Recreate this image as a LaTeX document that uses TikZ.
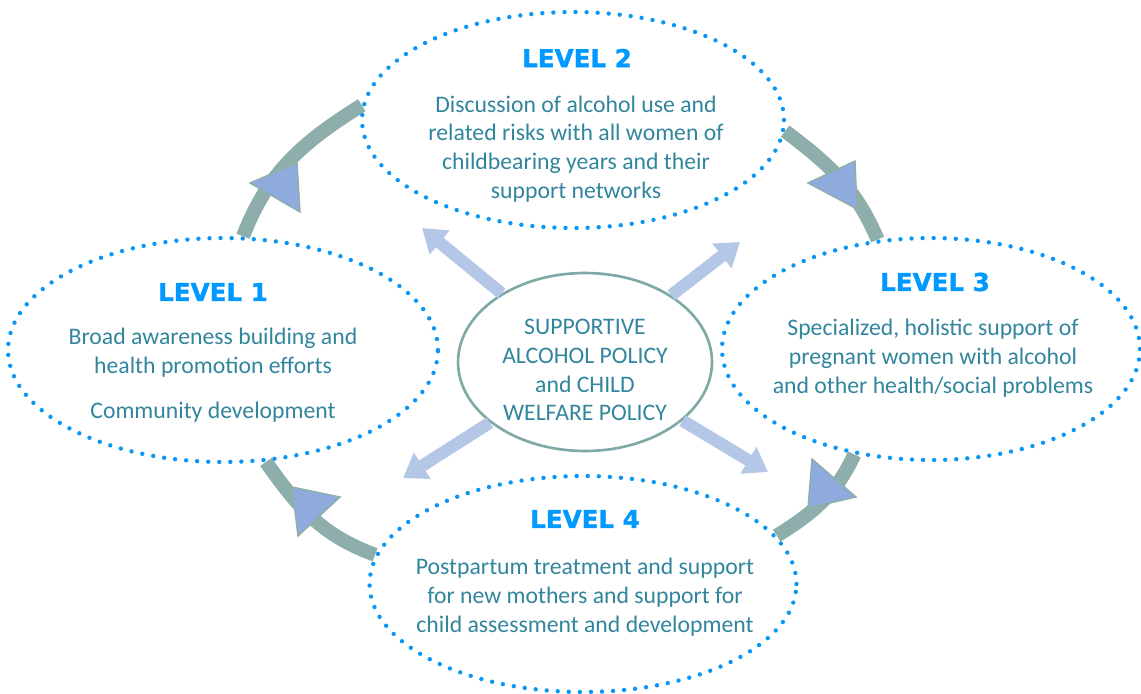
\documentclass[tikz,border=0pt]{standalone}
\usepackage{fontspec}
\setmainfont{Carlito}
\newfontfamily\levelfont{DejaVu Sans}[BoldFeatures={FakeBold=1.2}]
\usetikzlibrary{shapes.geometric,arrows.meta,backgrounds}
\definecolor{dotBlue}{HTML}{0A96F5}
\definecolor{headBlue}{HTML}{0099FF}
\definecolor{textTeal}{HTML}{31859C}
\definecolor{cycleGray}{HTML}{8EAEAB}
\definecolor{triBlue}{HTML}{8FAADC}
\definecolor{spokeBlue}{HTML}{B4C7E7}
\definecolor{policyRim}{HTML}{7FA9A7}

\begin{document}
\begin{tikzpicture}[x=0.02cm, y=-0.02cm,
    level/.style={ellipse, draw=dotBlue, line width=2.5pt, dash pattern=on 0pt off 6.3pt, line cap=round, inner sep=0pt},
    heading/.style={font=\levelfont\bfseries\fontsize{14}{16}\selectfont, text=headBlue},
    body/.style={align=center, text=textTeal, font=\fontsize{13.5}{16.4}\selectfont},
    cyclearc/.style={draw=cycleGray, line width=8pt},
    tri/.style={fill=triBlue, draw=cycleGray, line width=0.8pt},
    spoke/.style={draw=spokeBlue, line width=7pt, -{Triangle[width=17pt,length=13pt]}}]
    \useasboundingbox (0,0) rectangle (1141,693);

    % four levels round the policy
    \node[level, minimum width=8.6cm, minimum height=4.48cm] (l1) at (223,350) {};
    \node[level, minimum width=8.44cm, minimum height=4.32cm] (l2) at (573,120) {};
    \node[level, minimum width=8.36cm, minimum height=4.44cm] (l3) at (931,349) {};
    \node[level, minimum width=8.54cm, minimum height=4.32cm] (l4) at (583,584) {};

    \node[ellipse, draw=policyRim, line width=1.5pt, minimum width=5.08cm, minimum height=3.56cm, inner sep=0pt] (policy) at (585,362) {};
    \node[body] (policytext) at (585,370) {SUPPORTIVE\\ALCOHOL POLICY\\and CHILD\\WELFARE POLICY};

    % cycle, under the dotted rims
    \begin{pgfonlayer}{background}
    \path[cyclearc]
        (l1.80) to[out=69, in=212] (l2.176)
        (l2.-3) to[out=-37, in=113] (l3.116)
        (l3.234) to[out=245, in=32] (l4.14)
        (l1.291) to[out=-55, in=160] (l4.172);
    \end{pgfonlayer}
    \draw[tri] (250,183) -- (297,163) -- (300,212) -- cycle;
    \draw[tri] (808,183) -- (855,161) -- (857,209) -- cycle;
    \draw[tri] (812,459) -- (856,497) -- (808,508) -- cycle;
    \draw[tri] (292,487) -- (340,497) -- (298,536) -- cycle;

    % spokes out of the policy
    \coordinate (nw) at (422,228);
    \coordinate (ne) at (740,242);
    \coordinate (sw) at (403,478);
    \coordinate (se) at (768,472);
    \draw[spoke] (policy) -- (nw);
    \draw[spoke] (policy) -- (ne);
    \draw[spoke] (policy) -- (sw);
    \draw[spoke] (policy) -- (se);

    \node[heading] (h1) at (213,292) {LEVEL 1};
    \node[body] (b1) at (213,375) {Broad awareness building and\\health promotion efforts\\[9pt]Community development};
    \node[heading] (h2) at (577,58) {LEVEL 2};
    \node[body] (b2) at (576,149) {Discussion of alcohol use and\\related risks with all women of\\childbearing years and their\\support networks};
    \node[heading] (h3) at (935,282) {LEVEL 3};
    \node[body] (b3) at (933,358) {Specialized, holistic support of\\pregnant women with alcohol\\and other health/social problems};
    \node[heading] (h4) at (585,519) {LEVEL 4};
    \node[body] (b4) at (585,597) {Postpartum treatment and support\\for new mothers and support for\\child assessment and development};
\end{tikzpicture}
\end{document}
